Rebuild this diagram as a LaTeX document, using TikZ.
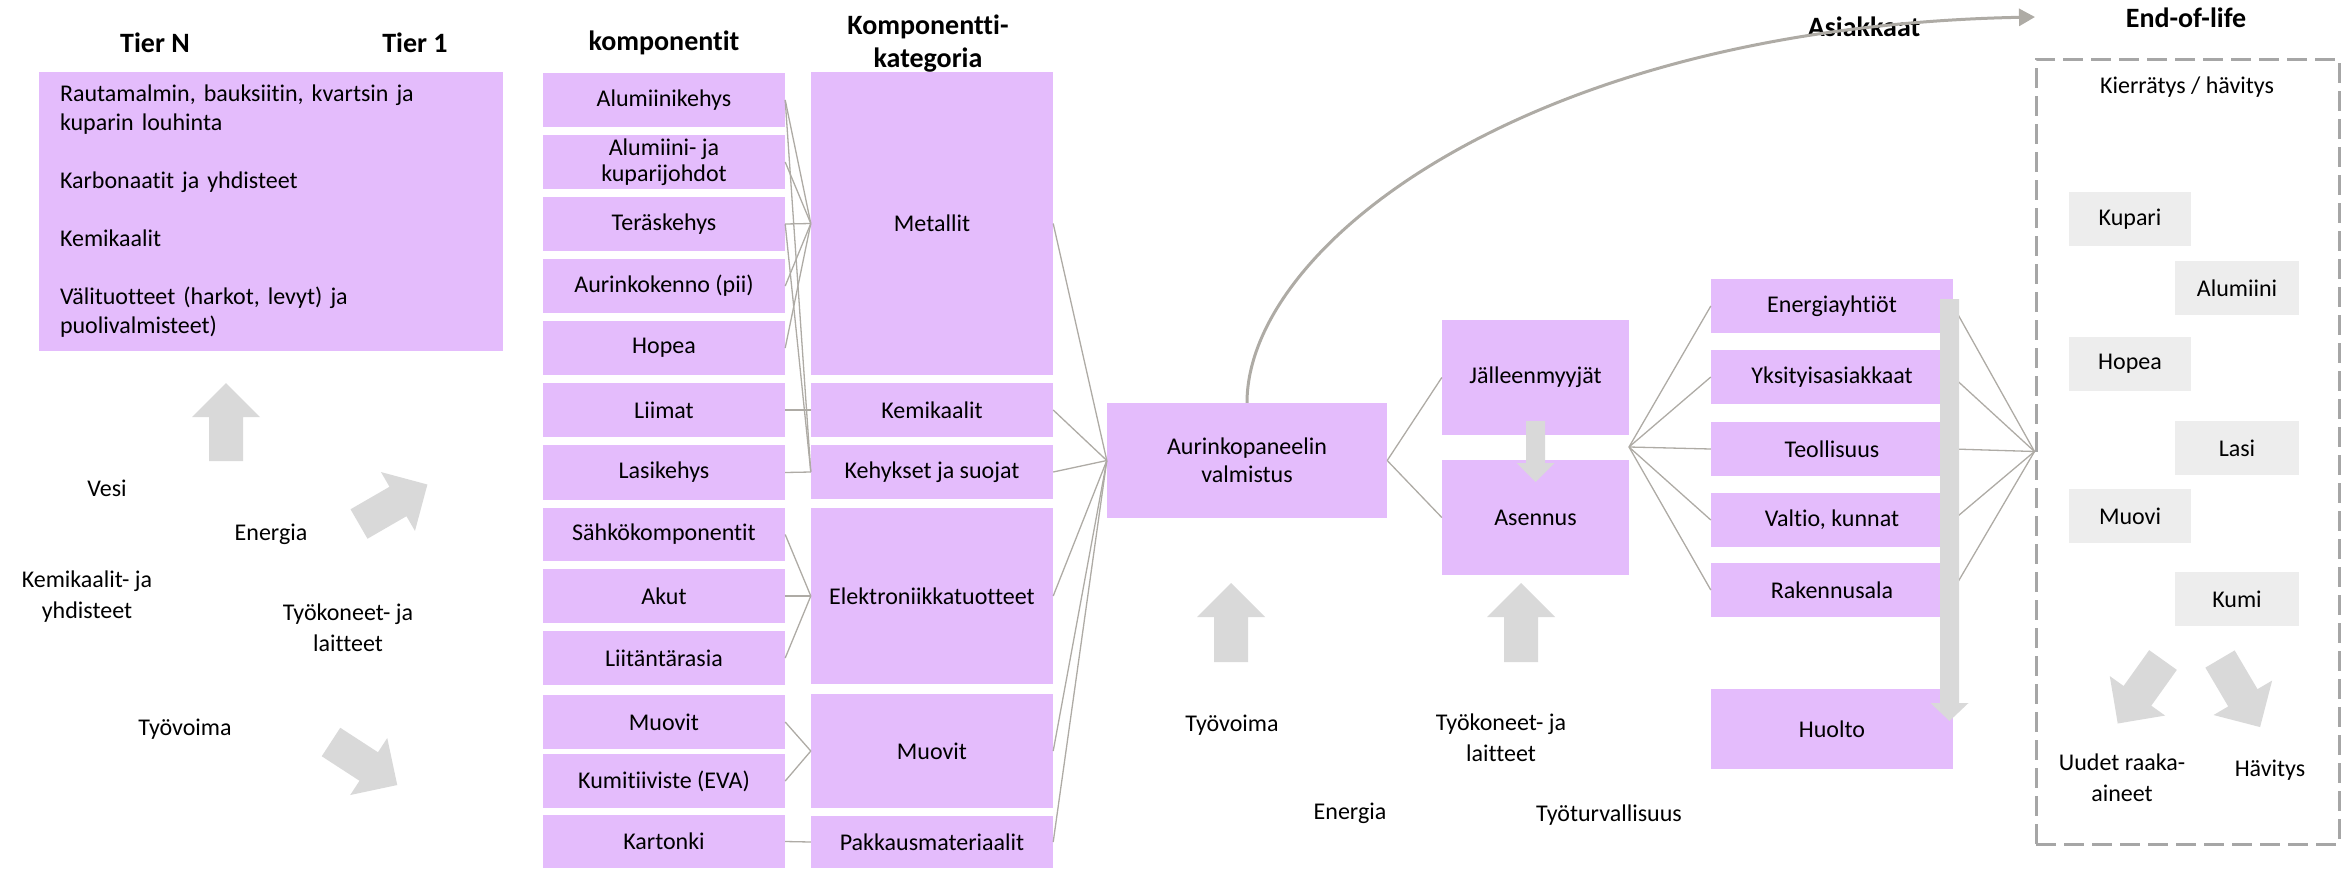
\documentclass[tikz,border=0pt]{standalone}
\usepackage{fontspec}
\setmainfont[Ligatures={NoCommon,NoRare,NoContextual}]{Carlito}
\usetikzlibrary{arrows.meta}
\definecolor{lav}{HTML}{E4BCFC}
\definecolor{lgray}{HTML}{EDEDED}
\definecolor{agray}{HTML}{D9D9D9}
\definecolor{lcol}{HTML}{AEABA5}
\definecolor{dgray}{HTML}{A6A6A6}
\newcommand\mkbox[7]{\node[#1, minimum width={(#5)-(#3)}, minimum height={(#6)-(#4)}] (#2) at ({((#3)+(#5))/2},{((#4)+(#6))/2}) {#7};}
\newcommand\barrow[7]{\fill[agray, shift={(#1,#2)}, rotate=#3] (0,-#5) -- ({#4-#7},-#5) -- ({#4-#7},-#6) -- (#4,0) -- ({#4-#7},#6) -- ({#4-#7},#5) -- (0,#5) -- cycle;}
\begin{document}
\begin{tikzpicture}[x=1pt,y=-1pt,
  box/.style={fill=lav, inner sep=0pt, align=center, font=\fontsize{24}{26}\selectfont},
  gbox/.style={fill=lgray, inner sep=0pt, align=center, font=\fontsize{24}{26}\selectfont},
  head/.style={font=\fontsize{28}{33}\selectfont\bfseries, align=center, inner sep=0pt},
  lbl/.style={font=\fontsize{24}{31}\selectfont, align=center, inner sep=0pt},
  conn/.style={draw=lcol, line width=1.3pt},
  eolbox/.style={draw=dgray, line width=3pt, dash pattern=on 20pt off 8pt, inner sep=0pt},
]
\useasboundingbox (0,0) rectangle (2346,868);

% headers
\node[head] (hTN) at (155,43) {Tier N};
\node[head] (hT1) at (415,43) {Tier 1};
\node[head] (hK) at (664,43) {komponentit};
\node[head] (hKK) at (928,44) {Komponentti-\\kategoria};
\node[head] (hA) at (1864,27) {Asiakkaat};
\node[head] (hE) at (2186,18) {End-of-life};

% tier box
\node[box, align=left, text width=422pt, inner xsep=21pt, inner ysep=0pt, minimum width=464, minimum height=279, font=\fontsize{24}{29}\selectfont] (tier) at (271,211.5)
 {Rautamalmin, bauksiitin, kvartsin ja\\kuparin louhinta\\[29pt]Karbonaatit ja yhdisteet\\[29pt]Kemikaalit\\[29pt]Välituotteet (harkot, levyt) ja\\puolivalmisteet)};

% komponentit
\mkbox{box}{k1}{543}{73}{785}{127}{Alumiinikehys}
\mkbox{box}{k2}{543}{135}{785}{189}{Alumiini- ja\\kuparijohdot}
\mkbox{box}{k3}{543}{197}{785}{251}{Teräskehys}
\mkbox{box}{k4}{543}{259}{785}{313}{Aurinkokenno (pii)}
\mkbox{box}{k5}{543}{321}{785}{375}{Hopea}
\mkbox{box}{k6}{543}{383}{785}{437}{Liimat}
\mkbox{box}{k7}{543}{445}{785}{500}{Lasikehys}
\mkbox{box}{k8}{543}{508}{785}{561}{Sähkökomponentit}
\mkbox{box}{k9}{543}{569}{785}{623}{Akut}
\mkbox{box}{k10}{543}{631}{785}{685}{Liitäntärasia}
\mkbox{box}{k11}{543}{695}{785}{749}{Muovit}
\mkbox{box}{k12}{543}{754}{785}{808}{Kumitiiviste (EVA)}
\mkbox{box}{k13}{543}{815}{785}{868}{Kartonki}

% kategoriat
\mkbox{box}{c1}{811}{72}{1053}{375}{Metallit}
\mkbox{box}{c2}{811}{383}{1053}{437}{Kemikaalit}
\mkbox{box}{c3}{811}{445}{1053}{499}{Kehykset ja suojat}
\mkbox{box}{c4}{811}{508}{1053}{684}{Elektroniikkatuotteet}
\mkbox{box}{c5}{811}{694}{1053}{808}{Muovit}
\mkbox{box}{c6}{811}{816}{1053}{868}{Pakkausmateriaalit}

% production and distribution
\mkbox{box}{aur}{1107}{403}{1387}{518}{Aurinkopaneelin\\[2pt]valmistus}
\mkbox{box}{jm}{1442}{320}{1629}{435}{Jälleenmyyjät}
\mkbox{box}{as}{1442}{460}{1629}{575}{Asennus}
\coordinate (J) at (1629,447);

% customers
\mkbox{box}{cu1}{1711}{279}{1953}{333}{Energiayhtiöt}
\mkbox{box}{cu2}{1711}{350}{1953}{404}{Yksityisasiakkaat}
\mkbox{box}{cu3}{1711}{422}{1953}{476}{Teollisuus}
\mkbox{box}{cu4}{1711}{493}{1953}{547}{Valtio, kunnat}
\mkbox{box}{cu5}{1711}{563}{1953}{617}{Rakennusala}
\mkbox{box}{hu}{1711}{689}{1953}{769}{Huolto}

% end of life
\mkbox{eolbox}{eol}{2036}{59}{2339}{844}{}
\node[lbl] (kh) at (2187,87) {Kierrätys / hävitys};
\mkbox{gbox}{g1}{2069}{192}{2191}{246}{Kupari}
\mkbox{gbox}{g2}{2175}{261}{2299}{315}{Alumiini}
\mkbox{gbox}{g3}{2069}{337}{2191}{391}{Hopea}
\mkbox{gbox}{g4}{2175}{421}{2299}{475}{Lasi}
\mkbox{gbox}{g5}{2069}{489}{2191}{543}{Muovi}
\mkbox{gbox}{g6}{2175}{572}{2299}{626}{Kumi}
\node[lbl] (uus) at (2122,778) {Uudet raaka-\\aineet};
\node[lbl] (hav) at (2270,770) {Hävitys};

% left labels
\node[lbl] (l1) at (107,488) {Vesi};
\node[lbl] (l2) at (271,534) {Energia};
\node[lbl] (l3) at (87,597) {Kemikaalit- ja\\yhdisteet};
\node[lbl] (l4) at (348,628) {Työkoneet- ja\\laitteet};
\node[lbl] (l5) at (185,729) {Työvoima};

% middle bottom labels
\node[lbl] (m1) at (1232,725) {Työvoima};
\node[lbl] (m2) at (1501,738) {Työkoneet- ja\\laitteet};
\node[lbl] (m3) at (1350,813) {Energia};
\node[lbl] (m4) at (1609,815) {Työturvallisuus};

% connectors
\foreach \a/\b in {k1/c1,k1/c3,k2/c1,k3/c1,k3/c3,k4/c1,k5/c1,k6/c2,k7/c3,k8/c4,k9/c4,k10/c4,k11/c5,k12/c5,k13/c6}
  \draw[conn] (\a.east) -- (\b.west);
\foreach \c in {c1,c2,c3,c4,c5,c6}
  \draw[conn] (\c.east) -- (aur.west);
\draw[conn] (aur.east) -- (jm.west);
\draw[conn] (aur.east) -- (as.west);
\foreach \c in {cu1,cu2,cu3,cu4,cu5}
  \draw[conn] (J) -- (\c.west);
\foreach \c in {cu1,cu2,cu3,cu4,cu5}
  \draw[conn] (\c.east) -- (eol.west);

% curved arrow
\coordinate (ctip) at (2035,17);
\draw[draw=lcol, line width=3pt, -{Triangle[length=16pt,width=17pt]}] (aur.north) .. controls (1247,246) and (1526,27) .. (ctip);

% block arrows
\barrow{226}{461}{90}{78}{17}{34}{34}
\barrow{359}{524}{30}{79}{17}{34}{34}
\barrow{331}{742}{-33}{79}{17}{34}{34}
\barrow{1231}{662}{90}{79}{17}{34}{34}
\barrow{1521}{662}{90}{79}{17}{34}{34}
\barrow{1535.5}{421}{-90}{61}{9.5}{19}{19}
\barrow{1949.5}{299}{-90}{422}{9.5}{19}{18}
\barrow{2163}{660}{-125.5}{78}{17}{34}{34}
\barrow{2220}{659}{-59.5}{79}{17}{34}{34}
\end{tikzpicture}
\end{document}
